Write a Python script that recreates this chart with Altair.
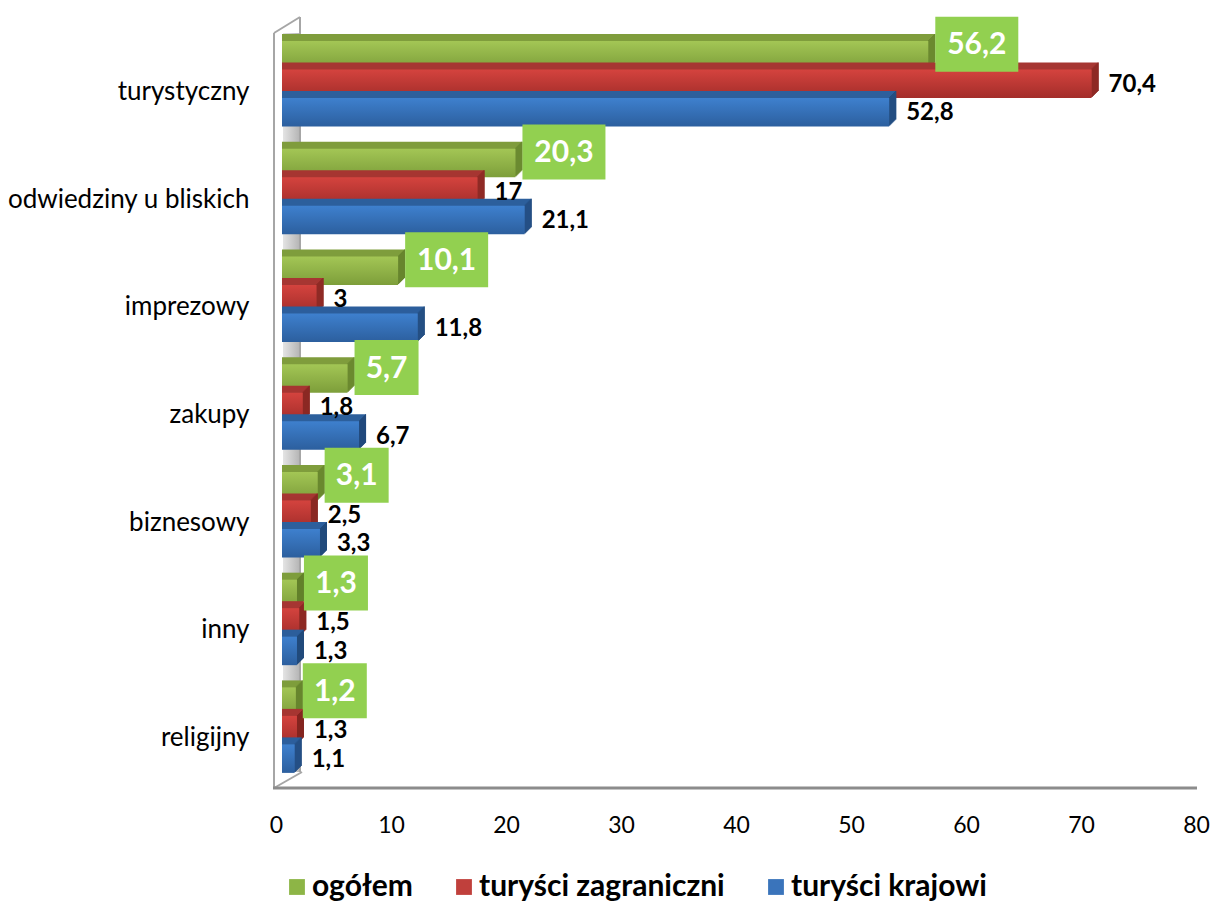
import altair as alt
import pandas as pd

# Purpose of stay by tourist group (%)
categories = ["turystyczny", "odwiedziny u bliskich", "imprezowy", "zakupy",
              "biznesowy", "inny", "religijny"]
series_names = ["ogółem", "turyści zagraniczni", "turyści krajowi"]
ogolem = [56.2, 20.3, 10.1, 5.7, 3.1, 1.3, 1.2]
zagraniczni = [70.4, 17, 3, 1.8, 2.5, 1.5, 1.3]
krajowi = [52.8, 21.1, 11.8, 6.7, 3.3, 1.3, 1.1]
x_ticks = [0, 10, 20, 30, 40, 50, 60, 70, 80]

values_by_series = {"ogółem": ogolem, "turyści zagraniczni": zagraniczni,
                    "turyści krajowi": krajowi}

rows = []
for s in series_names:
    for c, v in zip(categories, values_by_series[s]):
        rows.append({"kategoria": c, "grupa": s, "wartosc": v})
df = pd.DataFrame(rows)

FONT = "Lato"
W, H = 920, 754
PX_PER_UNIT = W / 80.0
DEPTH = 7          # pixel depth of the 3D extrusion
BAR_H = 28.5

# face colours: (front gradient top, front gradient bottom, top face, side face)
styles = {
    "ogółem": ("#A3C655", "#7D9E3A", "#7F9D3C", "#617F2A"),
    "turyści zagraniczni": ("#D4433E", "#A32D2A", "#A63632", "#82241F"),
    "turyści krajowi": ("#3E80CE", "#2C5F9E", "#2D5F9C", "#21497A"),
}
legend_colors = ["#8DB546", "#C0403C", "#3A74BB"]
slot = {"ogółem": -BAR_H, "turyści zagraniczni": 0.0, "turyści krajowi": BAR_H}

y_enc = alt.Y("kategoria:N", sort=categories,
              scale=alt.Scale(paddingInner=0, paddingOuter=0),
              axis=alt.Axis(title=None, domain=False, ticks=False,
                            labelFont=FONT, labelFontSize=26, labelColor="#000000",
                            labelPadding=33, labelOffset=8, labelLimit=400))
x_scale = alt.Scale(domain=[0, 80], nice=False, zero=True)
x_axis = alt.Axis(title=None, values=x_ticks, grid=False, domain=False, ticks=False,
                  labelFont=FONT, labelFontSize=23, labelColor="#000000",
                  labelPadding=26, labelOffset=-6, offset=4, labelFlush=False)

base = alt.Chart(df)

# back wall and floor of the 3D frame
frame_df = pd.DataFrame({"k": [0]})
frame = alt.Chart(frame_df)
wall_fill = frame.mark_rect(
    color=alt.Gradient(gradient="linear", x1=0, y1=0, x2=1, y2=0,
                       stops=[alt.GradientStop(color="#E4E4E4", offset=0),
                              alt.GradientStop(color="#B4B4B4", offset=1)])
).encode(x=alt.value(1), x2=alt.value(18), y=alt.value(3), y2=alt.value(742))
wall_lines = [
    frame.mark_rule(color="#A6A6A6", strokeWidth=2).encode(
        x=alt.value(-8), x2=alt.value(-8), y=alt.value(3), y2=alt.value(758)),
    frame.mark_rule(color="#A6A6A6", strokeWidth=2).encode(
        x=alt.value(18), x2=alt.value(18), y=alt.value(-13), y2=alt.value(742)),
    frame.mark_rule(color="#A6A6A6", strokeWidth=2).encode(
        x=alt.value(-8), x2=alt.value(18), y=alt.value(3), y2=alt.value(-13)),
    frame.mark_rule(color="#A6A6A6", strokeWidth=2).encode(
        x=alt.value(-8), x2=alt.value(20), y=alt.value(758), y2=alt.value(742)),
    frame.mark_rule(color="#8C8C8C", strokeWidth=3).encode(
        x=alt.value(-9), x2=alt.value(915), y=alt.value(758), y2=alt.value(758)),
]

layers = [wall_fill] + wall_lines

# x axis (labels only)
layers.append(base.mark_bar(opacity=0).encode(
    x=alt.X("wartosc:Q", scale=x_scale, axis=x_axis), y=y_enc))

for s in series_names:
    top_front, bottom_front, top_col, side_col = styles[s]
    sdata = base.transform_filter(alt.datum.grupa == s)
    # extrusion: shifted copies, deepest first
    for i in range(DEPTH, 0, -1):
        layers.append(sdata.mark_bar(
            color=top_col, height=BAR_H, xOffset=i, x2Offset=i,
            yOffset=slot[s] - i).encode(
            x=alt.X("wartosc:Q", scale=x_scale, stack=None), y=y_enc))
        layers.append(sdata.mark_bar(
            color=side_col, height=BAR_H, xOffset=i - 1, x2Offset=i,
            yOffset=slot[s] - i).encode(
            x=alt.X("wartosc:Q", scale=x_scale, stack=None),
            x2="wartosc:Q", y=y_enc))
    # front face
    layers.append(sdata.mark_bar(
        height=BAR_H, yOffset=slot[s],
        color=alt.Gradient(gradient="linear", x1=0, y1=0, x2=0, y2=1,
                           stops=[alt.GradientStop(color=top_front, offset=0),
                                  alt.GradientStop(color=bottom_front, offset=1)])
    ).encode(x=alt.X("wartosc:Q", scale=x_scale, stack=None), y=y_enc))

labelled = base.transform_calculate(
    etykieta="replace(toString(datum.wartosc), '.', ',')"
)

# black value labels for the two tourist groups
for s in ["turyści zagraniczni", "turyści krajowi"]:
    layers.append(labelled.transform_filter(alt.datum.grupa == s).mark_text(
        align="left", baseline="middle", dx=17, yOffset=slot[s] + 1,
        font=FONT, fontSize=24, fontWeight="bold", color="#000000").encode(
        x=alt.X("wartosc:Q", scale=x_scale), y=y_enc, text="etykieta:N"))

# green boxed labels for the total
boxed = labelled.transform_filter(alt.datum.grupa == "ogółem").transform_calculate(
    box_end=f"datum.wartosc + (7 + 19 * length(datum.etykieta)) / {PX_PER_UNIT}",
    box_mid=f"datum.wartosc + (7 + 19 * length(datum.etykieta)) / {2 * PX_PER_UNIT}",
)
layers.append(boxed.mark_bar(color="#92D050", height=55, xOffset=DEPTH, x2Offset=DEPTH,
                             yOffset=slot["ogółem"] - 11).encode(
    x=alt.X("wartosc:Q", scale=x_scale, stack=None), x2="box_end:Q", y=y_enc))
layers.append(boxed.mark_text(
    align="center", baseline="middle", xOffset=DEPTH, yOffset=slot["ogółem"] - 10,
    font=FONT, fontSize=30, fontWeight="bold", color="#FFFFFF").encode(
    x=alt.X("box_mid:Q", scale=x_scale), y=y_enc, text="etykieta:N"))

# legend carrier
layers.append(base.mark_square(opacity=0, size=1).encode(
    x=alt.X("wartosc:Q", scale=x_scale),
    y=y_enc,
    color=alt.Color("grupa:N", sort=series_names,
                    scale=alt.Scale(domain=series_names, range=legend_colors),
                    legend=alt.Legend(title=None, orient="none", direction="horizontal",
                                      legendX=0, legendY=842,
                                      symbolType="square", symbolSize=250,
                                      symbolOpacity=1, symbolStrokeWidth=0,
                                      labelFont=FONT, labelFontSize=30,
                                      labelFontWeight="bold", labelColor="#000000",
                                      labelOffset=0, columnPadding=36,
                                      labelLimit=400))))

chart = alt.layer(*layers).properties(
    width=W, height=H,
    background="#FFFFFF",
    autosize=alt.AutoSizeParams(type="none"),
    padding={"left": 282, "top": 30, "right": 10, "bottom": 118},
).configure_view(stroke=None)

chart.save("out.html", embed_options={"renderer": "svg", "actions": False})
